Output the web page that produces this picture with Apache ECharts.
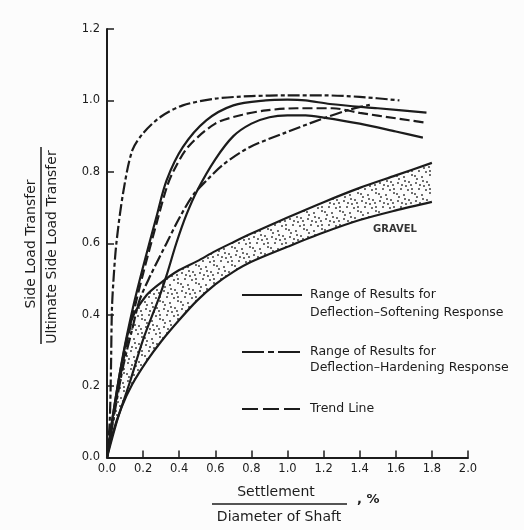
<!DOCTYPE html>
<html>
<head>
<meta charset="utf-8">
<title>Side Load Transfer</title>
<script src="https://cdn.jsdelivr.net/npm/echarts/dist/echarts.min.js"></script>
<style>
  html, body { margin: 0; padding: 0; background: #fcfcfc; }
  #chart { width: 524px; height: 530px; }
</style>
</head>
<body>
<div id="chart"></div>
<script>
// 坐标刻度
var xTicks = [0, 0.2, 0.4, 0.6, 0.8, 1.0, 1.2, 1.4, 1.6, 1.8, 2.0];
var yTicks = [0, 0.2, 0.4, 0.6, 0.8, 1.0, 1.2];

// hardening response, upper curve (dash-dot)
var hardTopX = [0, 0.015, 0.022, 0.027, 0.035, 0.052, 0.089, 0.14, 0.2, 0.3, 0.42, 0.6, 0.8, 1.0, 1.2, 1.4, 1.62];
var hardTopY = [0, 0.1, 0.25, 0.41, 0.49, 0.6, 0.74, 0.86, 0.908, 0.955, 0.986, 1.005, 1.012, 1.014, 1.014, 1.01, 1.0];

// softening response, upper curve (solid)
var softTopX = [0, 0.04, 0.09, 0.144, 0.2, 0.274, 0.33, 0.42, 0.55, 0.7, 0.88, 1.0, 1.1, 1.235, 1.5, 1.77];
var softTopY = [0, 0.14, 0.29, 0.42, 0.534, 0.674, 0.776, 0.869, 0.944, 0.986, 1.0, 1.002, 1.0, 0.99, 0.978, 0.966];

// trend line (dashed)
var trendX = [0, 0.04, 0.09, 0.144, 0.2, 0.274, 0.33, 0.366, 0.45, 0.6, 0.75, 0.88, 1.05, 1.25, 1.4, 1.6, 1.77];
var trendY = [0, 0.13, 0.27, 0.4, 0.515, 0.655, 0.755, 0.8, 0.87, 0.935, 0.96, 0.972, 0.978, 0.978, 0.965, 0.95, 0.937];

// hardening response, lower curve (dash-dot)
var hardLowX = [0, 0.04, 0.089, 0.14, 0.18, 0.237, 0.33, 0.4, 0.477, 0.55, 0.643, 0.79, 0.975, 1.2, 1.35, 1.46];
var hardLowY = [0, 0.12, 0.254, 0.36, 0.44, 0.506, 0.6, 0.67, 0.735, 0.775, 0.82, 0.869, 0.907, 0.95, 0.975, 0.988];

// softening response, lower curve (solid)
var softLowX = [0, 0.06, 0.126, 0.2, 0.29, 0.33, 0.384, 0.44, 0.5, 0.6, 0.7, 0.8, 0.9, 1.0, 1.1, 1.2, 1.4, 1.6, 1.75];
var softLowY = [0, 0.11, 0.21, 0.33, 0.45, 0.51, 0.6, 0.68, 0.748, 0.835, 0.9, 0.935, 0.953, 0.958, 0.958, 0.952, 0.935, 0.913, 0.896];

// gravel band
var gravelX = [0, 0.03, 0.08, 0.14, 0.22, 0.3, 0.4, 0.5, 0.6, 0.7, 0.8, 1.0, 1.2, 1.4, 1.6, 1.8];
var gravelUpper = [0, 0.11, 0.26, 0.39, 0.455, 0.49, 0.525, 0.55, 0.578, 0.603, 0.627, 0.672, 0.715, 0.755, 0.79, 0.825];
var gravelLower = [0, 0.065, 0.14, 0.205, 0.27, 0.325, 0.385, 0.44, 0.485, 0.52, 0.548, 0.59, 0.63, 0.665, 0.692, 0.716];

var paper = "#fcfcfc";
var ink = "#1c1c1c";
var font = "DejaVu Sans";
var dashDot = [12, 3, 4, 3];
var dashed = [10, 4];

function pairs(xs, ys) {
    var out = [];
    for (var i = 0; i < xs.length; i++) {
        out.push([xs[i], ys[i]]);
    }
    return out;
}

// 点状填充
function dotPattern() {
    var c = document.createElement("canvas");
    c.width = 18;
    c.height = 18;
    var ctx = c.getContext("2d");
    ctx.fillStyle = paper;
    ctx.fillRect(0, 0, 18, 18);
    ctx.fillStyle = "#333";
    var dots = [[2, 3], [9, 1], [15, 5], [5, 9], [12, 10], [1, 14], [8, 15], [16, 13], [13, 2], [6, 5], [10, 6], [3, 17], [16, 9]];
    dots.forEach(function (d) {
        ctx.beginPath();
        ctx.arc(d[0], d[1], 0.95, 0, Math.PI * 2);
        ctx.fill();
    });
    return c;
}

function curve(name, xs, ys, type) {
    return {
        name: name,
        type: "line",
        data: pairs(xs, ys),
        smooth: 0.3,
        symbol: "none",
        z: 4,
        lineStyle: { color: ink, width: 2.2, type: type }
    };
}

var myChart = echarts.init(document.getElementById("chart"));
var option = {
    backgroundColor: paper,
    animation: false,
    grid: { left: 107, right: 56, top: 29, bottom: 72.5 },
    xAxis: {
        type: "value",
        z: 6,
        min: xTicks[0],
        max: xTicks[xTicks.length - 1],
        interval: 0.2,
        axisLine: { lineStyle: { color: ink, width: 2 } },
        axisTick: { inside: true, length: 7, lineStyle: { color: ink, width: 1.5 } },
        axisLabel: {
            margin: 6, color: ink, fontFamily: font, fontSize: 11.5,
            formatter: function (v) { return v.toFixed(1); }
        },
        splitLine: { show: false }
    },
    yAxis: {
        type: "value",
        z: 6,
        min: yTicks[0],
        max: yTicks[yTicks.length - 1],
        interval: 0.2,
        axisLine: { show: true, lineStyle: { color: ink, width: 2 } },
        axisTick: { show: true, inside: true, length: 7, lineStyle: { color: ink, width: 1.5 } },
        axisLabel: {
            margin: 7, color: ink, fontFamily: font, fontSize: 11.5,
            formatter: function (v) { return v.toFixed(1); }
        },
        splitLine: { show: false }
    },
    series: [
        // 上边界：点状填充到轴
        {
            name: "gravel-high",
            type: "line",
            data: pairs(gravelX, gravelUpper),
            smooth: 0.3,
            symbol: "none",
            z: 2,
            lineStyle: { color: ink, width: 2.2 },
            areaStyle: { color: { image: dotPattern(), repeat: "repeat" }, opacity: 1 }
        },
        // 下边界：用底色盖住下方
        {
            name: "gravel-low",
            type: "line",
            data: pairs(gravelX, gravelLower),
            smooth: 0.3,
            symbol: "none",
            z: 3,
            lineStyle: { color: ink, width: 2.2 },
            areaStyle: { color: paper, opacity: 1 }
        },
        curve("hard-top", hardTopX, hardTopY, dashDot),
        curve("soft-top", softTopX, softTopY, "solid"),
        curve("trend", trendX, trendY, dashed),
        curve("hard-low", hardLowX, hardLowY, dashDot),
        curve("soft-low", softLowX, softLowY, "solid")
    ],
    graphic: [
        // y 轴标题
        { type: "text", x: 31, y: 244, rotation: Math.PI / 2,
          style: { text: "Side Load Transfer", font: "14px " + font, fill: ink, align: "center", verticalAlign: "middle" } },
        { type: "line", shape: { x1: 41, y1: 147, x2: 41, y2: 344 }, style: { stroke: ink, lineWidth: 1.5 } },
        { type: "text", x: 52, y: 247, rotation: Math.PI / 2,
          style: { text: "Ultimate Side Load Transfer", font: "14px " + font, fill: ink, align: "center", verticalAlign: "middle" } },
        // x 轴标题
        { type: "text", x: 276, y: 492,
          style: { text: "Settlement", font: "14px " + font, fill: ink, align: "center", verticalAlign: "middle" } },
        { type: "line", shape: { x1: 212, y1: 504, x2: 347, y2: 504 }, style: { stroke: ink, lineWidth: 1.5 } },
        { type: "text", x: 279, y: 517,
          style: { text: "Diameter of Shaft", font: "14px " + font, fill: ink, align: "center", verticalAlign: "middle" } },
        { type: "text", x: 357, y: 500,
          style: { text: ", %", font: "bold 13px " + font, fill: ink, align: "left", verticalAlign: "middle" } },
        // GRAVEL
        { type: "text", x: 395, y: 229, z: 10,
          style: { text: "GRAVEL", font: "bold 10px " + font, fill: "#333", align: "center", verticalAlign: "middle" } },
        // 图例
        { type: "line", z: 10, shape: { x1: 242, y1: 295, x2: 302, y2: 295 }, style: { stroke: ink, lineWidth: 2.2 } },
        { type: "text", x: 310, y: 286, z: 10,
          style: { text: "Range of Results for\nDeflection\u2013Softening Response", font: "12.5px " + font, lineHeight: 18, fill: ink, align: "left", verticalAlign: "top" } },
        { type: "line", z: 10, shape: { x1: 242, y1: 352, x2: 302, y2: 352 }, style: { stroke: ink, lineWidth: 2.2, lineDash: [22, 4, 6, 4] } },
        { type: "text", x: 310, y: 344, z: 10,
          style: { text: "Range of Results for\nDeflection\u2013Hardening Response", font: "12.5px " + font, lineHeight: 16, fill: ink, align: "left", verticalAlign: "top" } },
        { type: "line", z: 10, shape: { x1: 242, y1: 409, x2: 302, y2: 409 }, style: { stroke: ink, lineWidth: 2.2, lineDash: [16, 5] } },
        { type: "text", x: 310, y: 409, z: 10,
          style: { text: "Trend Line", font: "12.5px " + font, fill: ink, align: "left", verticalAlign: "middle" } }
    ]
};
myChart.setOption(option);
</script>
</body>
</html>
